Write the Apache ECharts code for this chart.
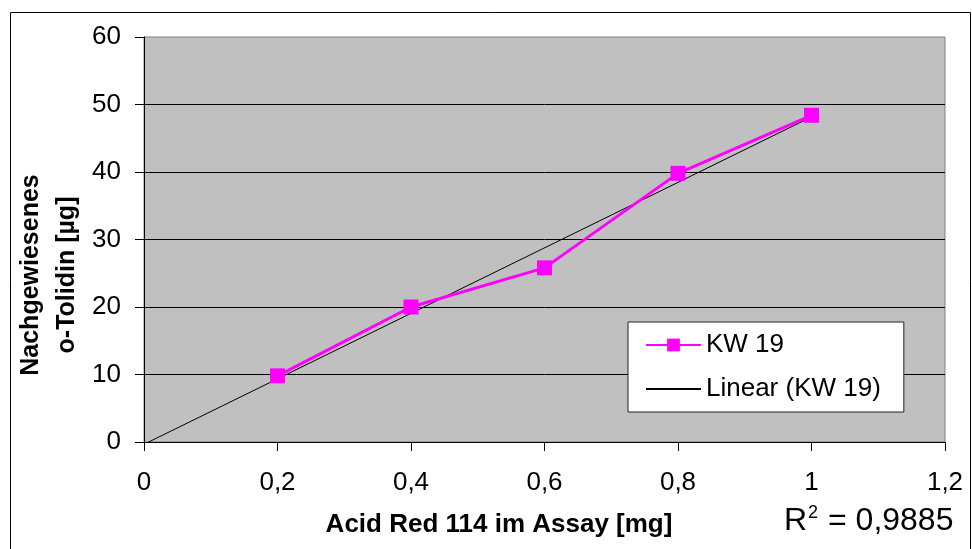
<!DOCTYPE html>
<html>
<head>
<meta charset="utf-8">
<script src="https://cdn.jsdelivr.net/npm/echarts@6/dist/echarts.min.js"></script>
<style>html,body{margin:0;padding:0;background:#fff}#c{width:972px;height:549px}</style>
</head>
<body>
<div id="c"></div>
<script>
var xValues = [0.2, 0.4, 0.6, 0.8, 1.0];
var yValues = [9.8, 20.0, 25.8, 39.8, 48.4];
var seriesName = 'KW 19';
var trendName = 'Linear (KW 19)';
var xTitle = 'Acid Red 114 im Assay [mg]';
var yTitleLines = ['Nachgewiesenes', 'o-Tolidin [µg]'];
var r2Text = '0,9885';
var trendRange = [0, 1];

// least squares linear trend from the data
var n = xValues.length, mx = 0, my = 0;
for (var i = 0; i < n; i++) { mx += xValues[i]; my += yValues[i]; }
mx /= n; my /= n;
var sxy = 0, sxx = 0;
for (var i = 0; i < n; i++) { sxy += (xValues[i]-mx)*(yValues[i]-my); sxx += (xValues[i]-mx)*(xValues[i]-mx); }
var slope = sxy / sxx, icpt = my - slope * mx;
var trendData = trendRange.map(function (x) { return [x, icpt + slope * x]; });

var chart = echarts.init(document.getElementById('c'), null, {renderer: 'canvas'});
var font = 'Liberation Sans, Arial, sans-serif';
chart.setOption({
  animation: false,
  backgroundColor: '#fff',
  textStyle: {fontFamily: font},
  grid: {left: 144, right: 27, top: 37, bottom: 107, show: true, backgroundColor: '#C0C0C0', borderColor: '#808080', borderWidth: 1},
  xAxis: {
    type: 'value', min: 0, max: 1.2, interval: 0.2,
    axisLine: {show: true, onZero: false, lineStyle: {color: '#000', width: 1}},
    axisTick: {show: true, inside: false, length: 9, lineStyle: {color: '#000'}},
    splitLine: {show: false},
    axisLabel: {color: '#000', fontSize: 26, fontFamily: font, margin: 28,
      formatter: function (v) { return String(+v.toFixed(1)).replace('.', ','); }}
  },
  yAxis: {
    type: 'value', min: 0, max: 60, interval: 10,
    axisLine: {show: true, onZero: false, lineStyle: {color: '#000', width: 1}},
    axisTick: {show: true, inside: false, length: 9, lineStyle: {color: '#000'}},
    splitLine: {show: true, showMaxLine: false, lineStyle: {color: '#000', width: 1}},
    axisLabel: {color: '#000', fontSize: 26, fontFamily: font, margin: 23}
  },
  legend: {
    left: 628, top: 322, orient: 'vertical',
    backgroundColor: '#fff', borderColor: '#222', borderWidth: 1,
    padding: [10, 23, 10, 17], itemGap: 18, itemWidth: 55, itemHeight: 16,
    textStyle: {color: '#000', fontSize: 26, fontFamily: font},
    data: [seriesName, {name: trendName, itemStyle: {opacity: 0}}]
  },
  series: [
    {
      name: trendName, type: 'line', data: trendData, symbol: 'none', clip: true,
      lineStyle: {color: '#000', width: 1}, itemStyle: {color: '#000'}, z: 2
    },
    {
      name: seriesName, type: 'line',
      data: xValues.map(function (x, i) { return [x, yValues[i]]; }),
      symbol: 'rect', symbolSize: 15,
      lineStyle: {color: '#FF00FF', width: 3}, itemStyle: {color: '#FF00FF'}, z: 3
    }
  ],
  graphic: [
    {type: 'rect', left: 8, top: 10, shape: {width: 960, height: 545}, style: {fill: 'none', stroke: '#000', lineWidth: 1}, silent: true},
    {type: 'text', x: 499, y: 525, style: {text: xTitle, font: 'bold 26px ' + font, fill: '#000', textAlign: 'center', textVerticalAlign: 'middle'}},
    {type: 'text', x: 49, y: 275, rotation: Math.PI / 2, style: {text: yTitleLines.join('\n'), font: 'bold 25px ' + font, fill: '#000', textAlign: 'center', textVerticalAlign: 'middle', lineHeight: 36}},
    {type: 'text', left: 784, top: 504, style: {
      rich: {
        r: {fontSize: 32, fontFamily: font, fill: '#000', color: '#000'},
        s: {fontSize: 18, fontFamily: font, fill: '#000', color: '#000', verticalAlign: 'top', padding: [0, 1, 16, 1]}
      },
      text: '{r|R}{s|2}{r| = ' + r2Text + '}'
    }}
  ]
});
</script>
</body>
</html>
